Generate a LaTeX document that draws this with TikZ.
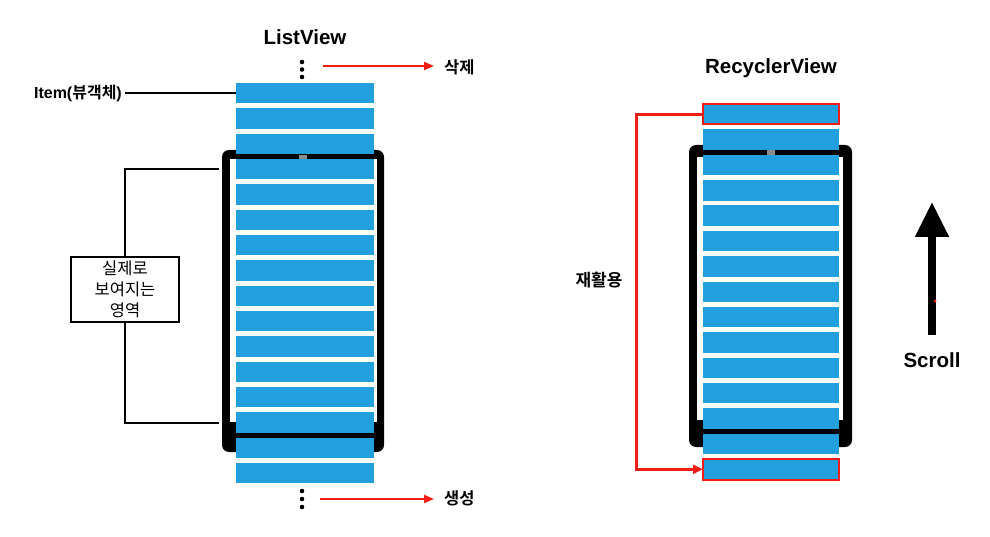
\documentclass[tikz,border=0pt]{standalone}
\usepackage{fontspec}
\setmainfont{Liberation Sans}
\newfontfamily\kr[BoldFont={Noto Sans CJK KR Bold}]{Noto Sans CJK KR}
\usetikzlibrary{arrows.meta}
\definecolor{itemblue}{RGB}{34,160,222}
\definecolor{arrred}{RGB}{240,30,20}
\definecolor{camgray}{RGB}{140,140,140}
\begin{document}
\begin{tikzpicture}[x=1pt,y=-1pt,
  litem/.style={rectangle, fill=itemblue, inner sep=0pt, outer sep=0pt, minimum width=138pt, minimum height=20.5pt, anchor=north west},
  ritem/.style={rectangle, fill=itemblue, inner sep=0pt, outer sep=0pt, minimum width=136pt, minimum height=20.5pt, anchor=north west},
  redbox/.style={draw=arrred, line width=2pt},
  title/.style={font=\bfseries\fontsize{20.5}{24}\selectfont, anchor=base, inner sep=0pt},
  krlabel/.style={font=\kr\bfseries\fontsize{16.5}{19}\selectfont, inner sep=1pt},
  bline/.style={line width=2pt, black},
  redarrow/.style={line width=2pt, arrred, -{Triangle[length=10pt,width=8pt]}},
  dotc/.style={black}
]
\useasboundingbox[fill=white] (0,0) rectangle (990,537);

% ---------- ListView ----------
\node[title] (lvt) at (305,45) {ListView};
\fill[black, rounded corners=7pt] (222,150) rectangle (384,452);
\fill[white] (230,159) rectangle (377,422);
\fill[camgray] (299,155) rectangle (307,159);
\foreach \k in {1,...,16} \node[litem] (L\k) at (236,{83+(\k-1)*25.33}) {};

\fill[dotc] (302,62) circle (2.3pt) (302,69.5) circle (2.3pt) (302,77) circle (2.3pt);
\fill[dotc] (302,491) circle (2.3pt) (302,499) circle (2.3pt) (302,507) circle (2.3pt);

\node[krlabel, anchor=west] (del) at (443,67) {삭제};
\coordinate (dstart) at (323,66);
\draw[redarrow, shorten >=9pt] (dstart) -- (del.west |- dstart);
\node[krlabel, anchor=west] (gen) at (443,498) {생성};
\coordinate (gstart) at (320,499);
\draw[redarrow, shorten >=9pt] (gstart) -- (gen.west |- gstart);

\node[anchor=east, inner sep=1pt] (itm) at (123,93.25) {\fontsize{16}{18}\selectfont\bfseries Item({\kr\bfseries 뷰객체})};
\draw[bline] (itm.east) ++(2pt,0) -- (L1.west);

\node[draw, line width=2pt, minimum width=108pt, minimum height=65pt, inner sep=0pt, align=center,
      font=\kr\fontsize{16.5}{21}\selectfont] (vis) at (125,289.5) {실제로\\보여지는\\영역};
\coordinate (vt) at (219,169);
\coordinate (vb) at (219,423);
\draw[bline] (vis.north) |- (vt);
\draw[bline] (vis.south) |- (vb);

% ---------- RecyclerView ----------
\node[title] (rvt) at (771,74) {RecyclerView};
\fill[black, rounded corners=7pt] (689,145) rectangle (852,447);
\fill[white] (697,157) rectangle (843,420);
\fill[camgray] (767,150) rectangle (775,155);
\node[ritem, redbox] (R1) at (703,104) {};
\foreach \k in {2,...,14} \node[ritem] (R\k) at (703,{104+(\k-1)*25.36}) {};
\node[ritem, redbox] (R15) at (703,{104+14*25.36}) {};

\coordinate (rb) at (636,114.25);
\draw[line width=3pt, arrred, -{Triangle[length=10pt,width=9pt]}] (R1.west) -- (rb) |- (R15.west);
\node[krlabel, font=\kr\bfseries\fontsize{17}{19}\selectfont] (recy) at (599,280) {재활용};

% ---------- Scroll ----------
\coordinate (s0) at (932,335);
\coordinate (s1) at (932,202);
\draw[line width=8pt, -{Triangle[length=35pt,width=32pt]}] (s0) -- (s1);
\fill[arrred] (935,301) circle (1.6pt);
\node[title] (scr) at (932,367) {Scroll};
\end{tikzpicture}
\end{document}
